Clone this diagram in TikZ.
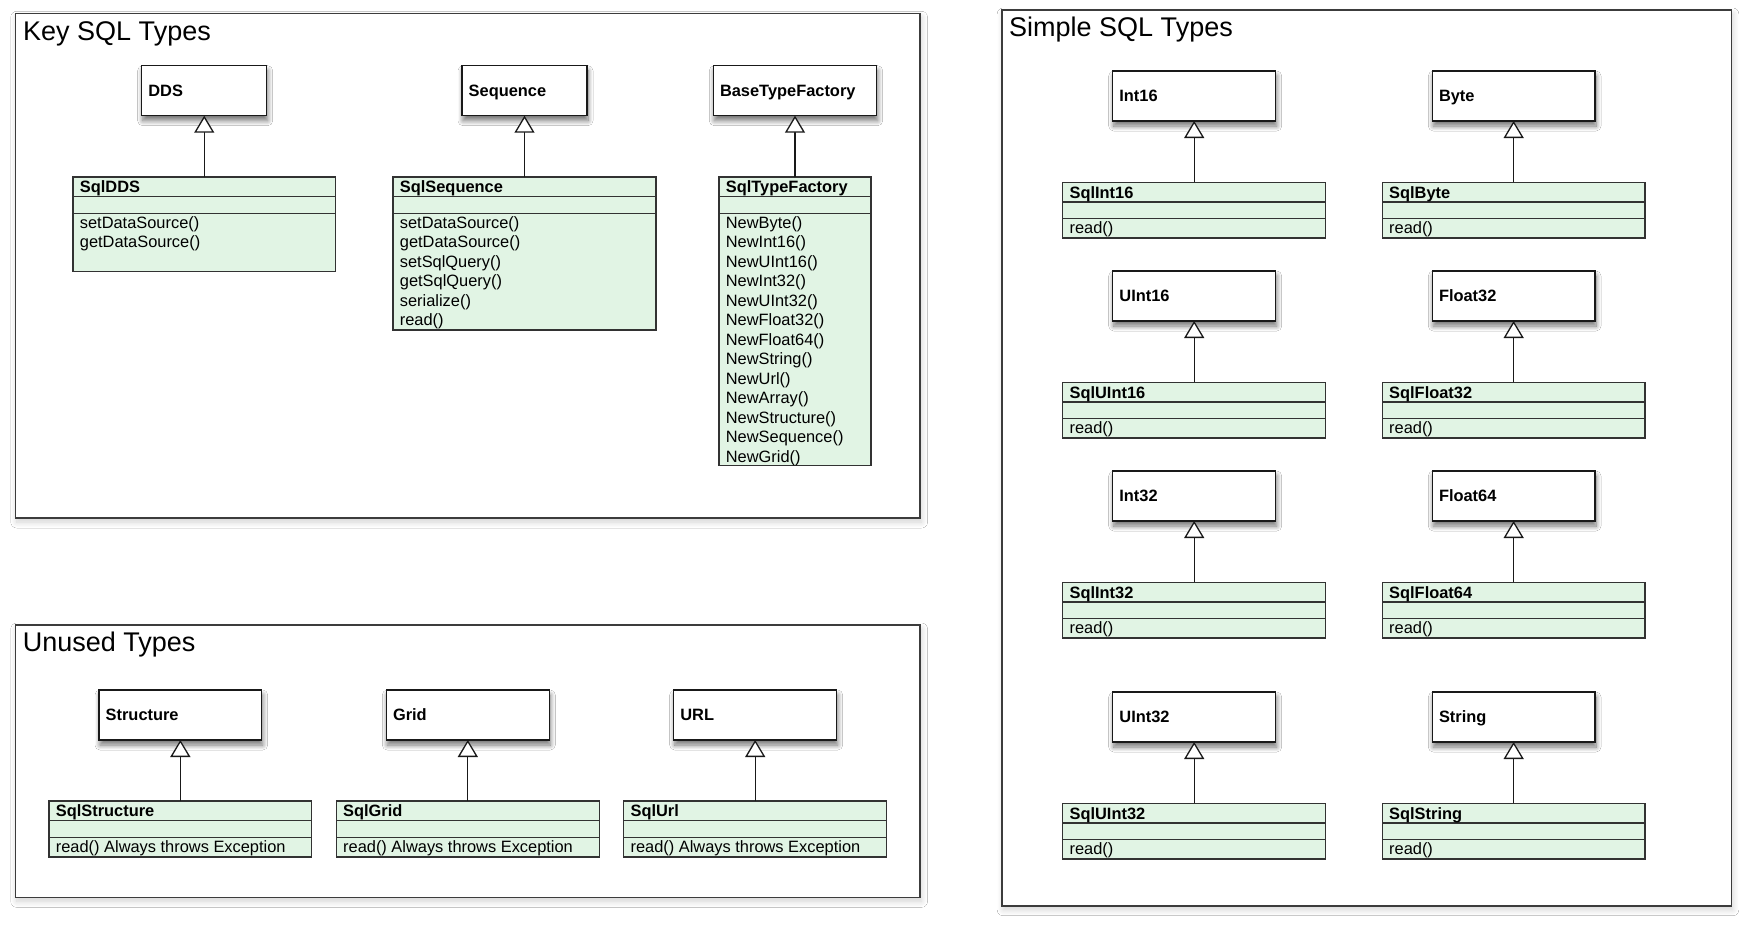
\documentclass[tikz,border=0pt]{standalone}
\usepackage{fontspec}
\setmainfont{Liberation Sans}
\usetikzlibrary{arrows.meta,shadows.blur}
\definecolor{umlgreen}{RGB}{225,244,228}
\definecolor{umlline}{RGB}{50,50,50}
\definecolor{framecol}{RGB}{60,60,60}
\tikzset{
  panel/.style={draw=framecol, line width=1.6pt, fill=white, anchor=north west, inner sep=0pt, outer sep=0pt,
    blur shadow={shadow xshift=1.5pt, shadow yshift=-4pt, shadow blur radius=6pt, shadow blur steps=12, shadow opacity=18}},
  ptitle/.style={anchor=base west, inner sep=0pt, font=\fontsize{27}{30}\selectfont},
  basebox/.style={draw=black!90, line width=1.3pt, fill=white, anchor=north west, minimum height=50pt,
    inner xsep=6.7pt, inner ysep=0pt, outer sep=0pt, text height=11.8pt, text depth=0.4pt, align=left,
    font=\bfseries\fontsize{16.4}{19.5}\selectfont,
    blur shadow={shadow xshift=1pt, shadow yshift=-5pt, shadow blur radius=5pt, shadow blur steps=10, shadow opacity=55}},
  classbox/.style={draw=umlline, line width=1.3pt, fill=umlgreen, anchor=north west, inner sep=0pt, outer sep=0pt},
  sepline/.style={draw=umlline, line width=1.3pt},
  classtitle/.style={anchor=base west, inner sep=0pt, font=\bfseries\fontsize{16.4}{19.5}\selectfont},
  classmeth/.style={anchor=base west, inner sep=0pt, font=\fontsize{16.4}{19.5}\selectfont},
  inherit/.style={draw=black!90, line width=1.3pt, -{Triangle[length=17pt, width=20pt, fill=white]}}
}
\newcommand\umlclass[7]{%
  \node[classbox, minimum width=#4pt, minimum height=#5pt] (#1) at (#2,#3) {};
  \draw[sepline] ([yshift=-19.7pt]#1.north west) -- ([yshift=-19.7pt]#1.north east);
  \draw[sepline] ([yshift=-36.4pt]#1.north west) -- ([yshift=-36.4pt]#1.north east);
  \node[classtitle] (#1-t) at ([xshift=6.7pt,yshift=-15.8pt]#1.north west) {#6};
  \foreach \m [count=\i] in {#7}
    \node[classmeth] (#1-m\i) at ([xshift=6.7pt,yshift={-51.3pt-(\i-1)*19.5pt}]#1.north west) {\m};
}
\begin{document}
\begin{tikzpicture}[x=1pt,y=-1pt]
\fill[white] (0,0) rectangle (1746,927);
\useasboundingbox (0,0) rectangle (1746,927);

% ---------------- Key SQL Types ----------------
\node[panel, minimum width=904.7pt, minimum height=504.7pt] (keyframe) at (15.3,13.3) {};
\node[ptitle] (keytitle) at (23,40) {Key SQL Types};

\node[basebox, text width=111.6pt] (dds) at (141.7,65.7) {DDS};
\node[basebox, text width=111.6pt] (seq) at (462,65.7) {Sequence};
\node[basebox, text width=150pt] (btf) at (713.3,65.7) {BaseTypeFactory};

\umlclass{sqldds}{73}{177}{262.5}{94.7}{SqlDDS}{{setDataSource()},{getDataSource()}}
\umlclass{sqlseq}{393}{177}{263}{153}{SqlSequence}{{setDataSource()},{getDataSource()},{setSqlQuery()},{getSqlQuery()},{serialize()},{read()}}
\umlclass{sqltf}{719}{177}{152}{288.7}{SqlTypeFactory}{{NewByte()},{NewInt16()},{NewUInt16()},{NewInt32()},{NewUInt32()},{NewFloat32()},{NewFloat64()},{NewString()},{NewUrl()},{NewArray()},{NewStructure()},{NewSequence()},{NewGrid()}}

\draw[inherit] (sqldds.north) -- (sqldds.north |- dds.south);
\draw[inherit] (sqlseq.north) -- (sqlseq.north |- seq.south);
\draw[inherit] (sqltf.north) -- (sqltf.north |- btf.south);

% ---------------- Unused Types ----------------
\node[panel, minimum width=904.7pt, minimum height=272.3pt] (unusedframe) at (15.3,625) {};
\node[ptitle] (unusedtitle) at (22.7,651.7) {Unused Types};

\node[basebox, text width=149.3pt] (structure) at (99,690) {Structure};
\node[basebox, text width=149.6pt] (grid) at (386.3,690) {Grid};
\node[basebox, text width=149.6pt] (url) at (673.7,690) {URL};

\umlclass{sqlstructure}{49}{801}{262.7}{56}{SqlStructure}{{read() Always throws Exception}}
\umlclass{sqlgrid}{336.3}{801}{263}{56}{SqlGrid}{{read() Always throws Exception}}
\umlclass{sqlurl}{623.7}{801}{263}{56}{SqlUrl}{{read() Always throws Exception}}

\draw[inherit] (sqlstructure.north) -- (sqlstructure.north |- structure.south);
\draw[inherit] (sqlgrid.north) -- (sqlgrid.north |- grid.south);
\draw[inherit] (sqlurl.north) -- (sqlurl.north |- url.south);

% ---------------- Simple SQL Types ----------------
\node[panel, minimum width=729.6pt, minimum height=895.7pt] (simpleframe) at (1001.7,10) {};
\node[ptitle] (simpletitle) at (1009,36) {Simple SQL Types};

\node[basebox, text width=149.6pt] (int16) at (1112.7,71) {Int16};
\node[basebox, text width=149.6pt] (uint16) at (1112.7,271) {UInt16};
\node[basebox, text width=149.6pt] (int32) at (1112.7,471) {Int32};
\node[basebox, text width=149.6pt] (uint32) at (1112.7,692) {UInt32};
\node[basebox, text width=149.3pt] (byte) at (1432.3,71) {Byte};
\node[basebox, text width=149.3pt] (float32) at (1432.3,271) {Float32};
\node[basebox, text width=149.3pt] (float64) at (1432.3,471) {Float64};
\node[basebox, text width=149.3pt] (string) at (1432.3,692) {String};

\umlclass{sqlint16}{1062.7}{182.3}{263}{55.7}{SqlInt16}{{read()}}
\umlclass{sqluint16}{1062.7}{382.3}{263}{55.7}{SqlUInt16}{{read()}}
\umlclass{sqlint32}{1062.7}{582.3}{263}{55.7}{SqlInt32}{{read()}}
\umlclass{sqluint32}{1062.7}{803.3}{263}{55.7}{SqlUInt32}{{read()}}
\umlclass{sqlbyte}{1382.3}{182.3}{262.7}{55.7}{SqlByte}{{read()}}
\umlclass{sqlfloat32}{1382.3}{382.3}{262.7}{55.7}{SqlFloat32}{{read()}}
\umlclass{sqlfloat64}{1382.3}{582.3}{262.7}{55.7}{SqlFloat64}{{read()}}
\umlclass{sqlstring}{1382.3}{803.3}{262.7}{55.7}{SqlString}{{read()}}

\draw[inherit] (sqlint16.north) -- (sqlint16.north |- int16.south);
\draw[inherit] (sqluint16.north) -- (sqluint16.north |- uint16.south);
\draw[inherit] (sqlint32.north) -- (sqlint32.north |- int32.south);
\draw[inherit] (sqluint32.north) -- (sqluint32.north |- uint32.south);
\draw[inherit] (sqlbyte.north) -- (sqlbyte.north |- byte.south);
\draw[inherit] (sqlfloat32.north) -- (sqlfloat32.north |- float32.south);
\draw[inherit] (sqlfloat64.north) -- (sqlfloat64.north |- float64.south);
\draw[inherit] (sqlstring.north) -- (sqlstring.north |- string.south);
\end{tikzpicture}
\end{document}
